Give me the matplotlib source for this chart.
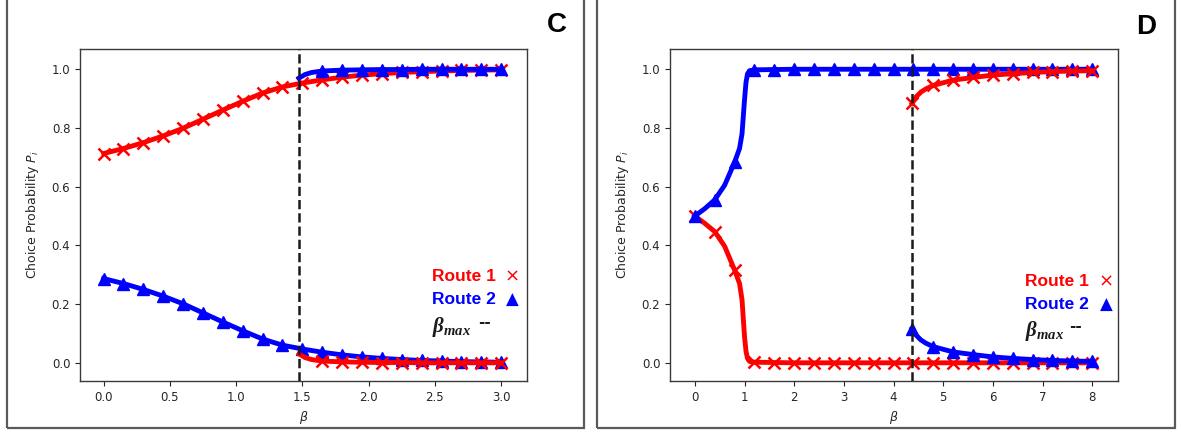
import numpy as np
import matplotlib
matplotlib.use("Agg")
import matplotlib.pyplot as plt
from matplotlib.patches import Rectangle

plt.rcParams['mathtext.fontset'] = 'dejavusans'
plt.rcParams['mathtext.it'] = 'Liberation Serif:italic:bold'
plt.rcParams['mathtext.rm'] = 'Liberation Serif:bold'
plt.rcParams['mathtext.bf'] = 'Liberation Serif:bold'

# ---------------- Panel C data ----------------
C_beta = [0.00, 0.15, 0.30, 0.45, 0.60, 0.75, 0.90, 1.05, 1.20, 1.35, 1.50,
          1.65, 1.80, 1.95, 2.10, 2.25, 2.40, 2.55, 2.70, 2.85, 3.00]
C_route1 = [0.713, 0.730, 0.750, 0.773, 0.799, 0.830, 0.861, 0.891, 0.919, 0.940, 0.953,
            0.964, 0.973, 0.980, 0.985, 0.989, 0.992, 0.994, 0.996, 0.997, 0.998]
C_route2 = [0.287, 0.270, 0.250, 0.227, 0.201, 0.170, 0.139, 0.109, 0.081, 0.060, 0.047,
            0.036, 0.027, 0.020, 0.015, 0.011, 0.008, 0.006, 0.004, 0.003, 0.002]
C_beta_alt = [1.475, 1.52, 1.57, 1.65, 1.80, 1.95, 2.10, 2.25, 2.40, 2.55, 2.70, 2.85, 3.00]
C_route2_alt = [0.970, 0.982, 0.989, 0.994, 0.997, 0.998, 0.999, 0.999, 1.000, 1.000, 1.000, 1.000, 1.000]
C_route1_alt = [0.030, 0.018, 0.011, 0.006, 0.003, 0.002, 0.001, 0.001, 0.000, 0.000, 0.000, 0.000, 0.000]
C_beta_max = 1.475
C_xticks = [0.0, 0.5, 1.0, 1.5, 2.0, 2.5, 3.0]
C_xlim = (-0.178, 3.195)

# ---------------- Panel D data ----------------
D_beta = [0.0, 0.2, 0.4, 0.6, 0.8, 0.9, 0.95, 1.0, 1.03, 1.06, 1.1, 1.2, 1.6, 2.0, 2.4, 2.8,
          3.2, 3.6, 4.0, 4.4, 4.8, 5.2, 5.6, 6.0, 6.4, 6.8, 7.2, 7.6, 8.0]
D_route2 = [0.500, 0.525, 0.555, 0.605, 0.683, 0.730, 0.780, 0.895, 0.955, 0.984, 0.995, 0.998,
            0.999, 1.0, 1.0, 1.0, 1.0, 1.0, 1.0, 1.0, 1.0, 1.0, 1.0, 1.0, 1.0, 1.0, 1.0, 1.0, 1.0]
D_route1 = [0.500, 0.475, 0.447, 0.397, 0.316, 0.270, 0.215, 0.090, 0.040, 0.015, 0.005, 0.002,
            0.001, 0.0, 0.0, 0.0, 0.0, 0.0, 0.0, 0.0, 0.0, 0.0, 0.0, 0.0, 0.0, 0.0, 0.0, 0.0, 0.0]
D_beta_alt = [4.375, 4.45, 4.55, 4.65, 4.8, 5.2, 5.6, 6.0, 6.4, 6.8, 7.2, 7.6, 8.0]
D_route1_alt = [0.884, 0.905, 0.922, 0.933, 0.945, 0.963, 0.972, 0.980, 0.985, 0.989, 0.992, 0.994, 0.995]
D_route2_alt = [0.116, 0.095, 0.078, 0.067, 0.055, 0.037, 0.028, 0.020, 0.015, 0.011, 0.008, 0.006, 0.005]
D_beta_max = 4.375
D_xticks = [0, 1, 2, 3, 4, 5, 6, 7, 8]
D_xlim = (-0.5, 8.52)

y_ticks = [0.0, 0.2, 0.4, 0.6, 0.8, 1.0]
y_lim = (-0.062, 1.069)

legend_labels = ['Route 1', 'Route 2']
legend_symbols = ['\u00d7', '\u25b2']

RED = '#ff0000'
BLUE = '#0000ff'
W, H = 1181, 434
fig = plt.figure(figsize=(W / 100, H / 100), dpi=100)

# panel frames
for x0, x1 in [(7, 584), (597, 1175)]:
    fig.patches.append(Rectangle((x0 / W, 1 - 428 / H), (x1 - x0) / W, 440 / H,
                                 transform=fig.transFigure, fill=False,
                                 edgecolor='#5a5a5a', lw=1.6, clip_on=False))


def marks_on_grid(betas, step, start_idx=0):
    idx = []
    for i, b in enumerate(betas):
        q = b / step
        if i >= start_idx and abs(q - round(q)) < 1e-6:
            idx.append(i)
    return idx


def panel(rect, beta, r1, r2, beta_alt, r1_alt, r2_alt, bmax, xticks, xlim, step,
          letter, letter_xy, leg_x, sym_x, dash_x, leg_ys, alt_first_mark):
    ax = fig.add_axes(rect)
    lw, ms = 3.5, 8
    m_main = marks_on_grid(beta, step)
    m_alt = ([0] if alt_first_mark else []) + marks_on_grid(beta_alt, step, 1)
    ax.plot(beta, r1, color=RED, lw=lw, marker='x', ms=ms, mew=1.8, markevery=m_main, zorder=3)
    ax.plot(beta, r2, color=BLUE, lw=lw, marker='^', ms=ms, markevery=m_main, zorder=3)
    ax.plot(beta_alt, r1_alt, color=RED, lw=lw, marker='x', ms=ms, mew=1.8, markevery=m_alt, zorder=3)
    ax.plot(beta_alt, r2_alt, color=BLUE, lw=lw, marker='^', ms=ms, markevery=m_alt, zorder=3)
    ax.axvline(bmax, color='#1a1a1a', ls='--', lw=1.8, zorder=4)
    ax.set_xlim(*xlim)
    ax.set_ylim(*y_lim)
    ax.set_xticks(xticks)
    ax.set_yticks(y_ticks)
    ax.set_yticklabels([f'{v:.1f}' for v in y_ticks])
    if isinstance(xticks[0], float):
        ax.set_xticklabels([f'{v:.1f}' for v in xticks])
    ax.tick_params(labelsize=8.5, colors='#262626', length=3.5, width=0.8)
    for s in ax.spines.values():
        s.set_color('#3a3a3a')
        s.set_linewidth(1.0)
    ax.set_ylabel('Choice Probability $P_i$', fontsize=9, color='#262626', labelpad=8)
    ax.set_xlabel(r'$\beta$', fontsize=9, color='#262626', labelpad=4)
    ax.yaxis.label.set_math_fontfamily('dejavusans')
    ax.xaxis.label.set_math_fontfamily('dejavusans')
    fam = ['Liberation Sans', 'DejaVu Sans']
    for lab, sym, col, yy, fs in zip(legend_labels, legend_symbols, [RED, BLUE], leg_ys[:2], [13, 12]):
        ax.text(leg_x, yy, lab, transform=ax.transAxes, color=col,
                fontsize=12.5, fontweight='bold', family=fam, va='center', ha='left')
        ax.text(sym_x, yy, sym, transform=ax.transAxes, color=col,
                fontsize=fs, fontweight='normal', family='DejaVu Sans', va='center', ha='center')
    t = ax.text(leg_x, leg_ys[2], r'$\beta_{max}$', transform=ax.transAxes, color='#1a1a1a',
                fontsize=15, fontweight='bold', family=fam, va='center', ha='left')
    t.set_math_fontfamily('custom')
    ax.text(dash_x, leg_ys[2] + 0.012, '--', transform=ax.transAxes, color='#1a1a1a',
            fontsize=11, fontweight='bold', family='DejaVu Sans', va='center', ha='center')
    fig.text(letter_xy[0] / W, 1 - letter_xy[1] / H, letter, fontsize=20, fontweight='bold',
             family=fam, ha='center', va='center')
    return ax


ax_bottom = 1 - 381 / H
ax_h = 332 / H
panel([80 / W, ax_bottom, 447 / W, ax_h], C_beta, C_route1, C_route2,
      C_beta_alt, C_route1_alt, C_route2_alt, C_beta_max, C_xticks, C_xlim, 0.15,
      'C', (557, 25), 0.787, 0.967, 0.904, (0.316, 0.244, 0.163), False)
panel([670 / W, ax_bottom, 448 / W, ax_h], D_beta, D_route1, D_route2,
      D_beta_alt, D_route1_alt, D_route2_alt, D_beta_max, D_xticks, D_xlim, 0.4,
      'D', (1146, 27), 0.792, 0.973, 0.905, (0.301, 0.229, 0.151), True)

fig.savefig('out.png', dpi=100)
